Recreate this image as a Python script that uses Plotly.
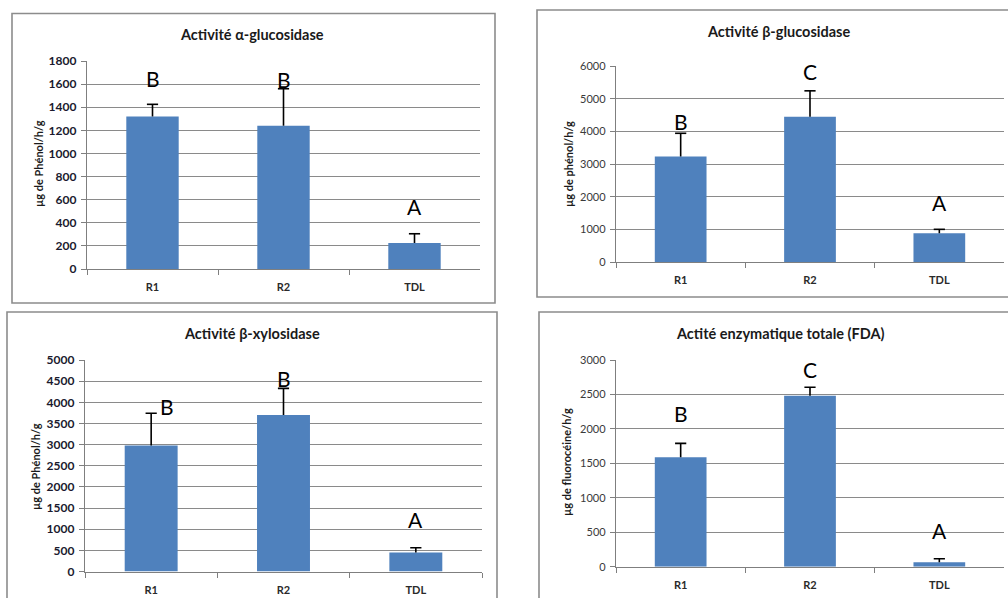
import plotly.graph_objects as go

W, H = 1008, 598

categories = ["R1", "R2", "TDL"]

alpha_vals = [1320, 1240, 225]
alpha_err = [105, 320, 80]
alpha_letters = ["B", "B", "A"]
alpha_letter_y = [1650, 1640, 540]

beta_vals = [3230, 4450, 880]
beta_err = [710, 790, 120]
beta_letters = ["B", "C", "A"]
beta_letter_y = [4300, 5830, 1810]

xylo_vals = [2980, 3700, 450]
xylo_err = [760, 630, 110]
xylo_letters = ["B", "B", "A"]
xylo_letter_y = [3900, 4570, 1220]

fda_vals = [1590, 2480, 65]
fda_err = [200, 125, 50]
fda_letters = ["B", "C", "A"]
fda_letter_y = [2230, 2855, 530]

titles = ["Activité α-glucosidase", "Activité β-glucosidase",
          "Activité β-xylosidase", "Actité enzymatique totale (FDA)"]
ylabels = ["µg de Phénol/h/g", "µg de phénol/h/g",
           "µg de Phénol/h/g", "µg de fluorocéine/h/g"]
yranges = [(0, 1800, 200), (0, 6000, 1000), (0, 5000, 500), (0, 3000, 500)]

BAR = "#4F81BD"
FONT = "Lato"


def px(x):
    return x / W


def py(y):
    return 1 - y / H


# plot-area pixel boxes: (left, right, top, bottom)
boxes = [(87, 480, 61, 269), (616, 1004, 66, 262),
         (85, 482, 360, 571.5), (616, 1004, 360, 566.7)]
# panel frames
frames = [(12, 495, 13.5, 303), (537, 1030, 10, 297),
          (7, 497, 312, 620), (539, 1030, 312, 620)]
title_pos = [(252, 35), (778, 32), (252, 333), (780, 333)]
ylab_pos = [(38, 164), (568, 164), (35, 467), (566, 462)]
left_panel = [True, False, True, False]

series = [
    (alpha_vals, alpha_err, alpha_letters, alpha_letter_y),
    (beta_vals, beta_err, beta_letters, beta_letter_y),
    (xylo_vals, xylo_err, xylo_letters, xylo_letter_y),
    (fda_vals, fda_err, fda_letters, fda_letter_y),
]

fig = go.Figure()
annotations = []
shapes = []

for i, (vals, errs, letters, ly) in enumerate(series):
    n = "" if i == 0 else str(i + 1)
    xa, ya = "x" + n, "y" + n
    fig.add_trace(go.Bar(
        x=categories, y=vals, xaxis=xa, yaxis=ya, width=0.4,
        marker=dict(color=BAR, line=dict(width=0)),
        showlegend=False, hoverinfo="x+y",
    ))
    # upper-only error bars: vertical stem from bar top plus a cap
    ex, ey = [], []
    for c, v, e in zip(categories, vals, errs):
        ex += [c, c, None]
        ey += [v, v + e, None]
    fig.add_trace(go.Scatter(
        x=ex, y=ey, xaxis=xa, yaxis=ya, mode="lines",
        line=dict(color="black", width=1.6), showlegend=False,
        hoverinfo="skip",
    ))
    fig.add_trace(go.Scatter(
        x=categories, y=[v + e for v, e in zip(vals, errs)],
        xaxis=xa, yaxis=ya, mode="markers",
        marker=dict(symbol="line-ew", size=8,
                    line=dict(color="black", width=1.6)),
        showlegend=False, hoverinfo="skip",
    ))
    l, r, t, b = boxes[i]
    left = left_panel[i]
    tickfont = dict(family=FONT, size=12 if left else 11,
                    color="#1a1a2e" if left else "#3a3a3a",
                    weight="bold" if left else "normal")
    lo, hi, dt = yranges[i]
    fig.layout["xaxis" + n] = dict(
        domain=[px(l), min(px(r), 1)], anchor=ya, type="category",
        range=[-0.5, 2.5], tickson="boundaries", ticks="outside",
        ticklen=5, tickcolor="#7f7f7f", showline=True, linecolor="#7f7f7f",
        linewidth=1.3, showgrid=False, zeroline=False, automargin=False,
        ticklabelstandoff=8,
        tickfont=dict(family=FONT, size=11, color="#2a2a2a", weight="bold"),
    )
    fig.layout["yaxis" + n] = dict(
        domain=[max(py(b), 0), py(t)], anchor=xa, range=[lo, hi], dtick=dt,
        ticks="outside", ticklen=5, tickcolor="#7f7f7f", showline=True,
        linecolor="#7f7f7f", linewidth=1.3, showgrid=True,
        gridcolor="#8a8a8a", gridwidth=1.2, zeroline=False, automargin=False,
        tickfont=tickfont, ticklabelstandoff=2,
    )
    # panel frame
    fl, fr, ft, fb = frames[i]
    shapes.append(dict(type="rect", xref="paper", yref="paper",
                       x0=px(fl), x1=px(fr), y0=py(fb), y1=py(ft),
                       line=dict(color="#8c8c8c", width=1.6),
                       fillcolor="rgba(0,0,0,0)", layer="below"))
    # title
    tx, ty = title_pos[i]
    annotations.append(dict(text="<b>" + titles[i] + "</b>", x=px(tx), y=py(ty),
                            xref="paper", yref="paper", showarrow=False,
                            font=dict(family=FONT, size=14.5, color="#1a1a1a"),
                            xanchor="center", yanchor="middle"))
    # y label
    yx, yy = ylab_pos[i]
    annotations.append(dict(text="<b>" + ylabels[i] + "</b>", x=px(yx), y=py(yy),
                            xref="paper", yref="paper", showarrow=False,
                            textangle=-90,
                            font=dict(family=FONT, size=11, color="#1a1a1a"),
                            xanchor="center", yanchor="middle"))
    # significance letters
    for j, (c, letter) in enumerate(zip(categories, letters)):
        shift = 16 if (i == 2 and j == 0) else 0
        annotations.append(dict(text=letter, x=c, y=ly[j], xref=xa, yref=ya,
                                showarrow=False, xshift=shift,
                                font=dict(family=FONT, size=21, color="black"),
                                xanchor="center", yanchor="middle"))

fig.update_layout(
    width=W, height=H,
    margin=dict(l=0, r=0, t=0, b=0, pad=0, autoexpand=False),
    paper_bgcolor="white", plot_bgcolor="white",
    annotations=annotations, shapes=shapes, bargap=0.6,
)

fig.write_html(
    "out.html",
    config={"displayModeBar": False},
    post_script="document.body.style.margin='0';"
                "document.body.style.overflow='hidden';"
                "document.documentElement.style.overflow='hidden';",
)
